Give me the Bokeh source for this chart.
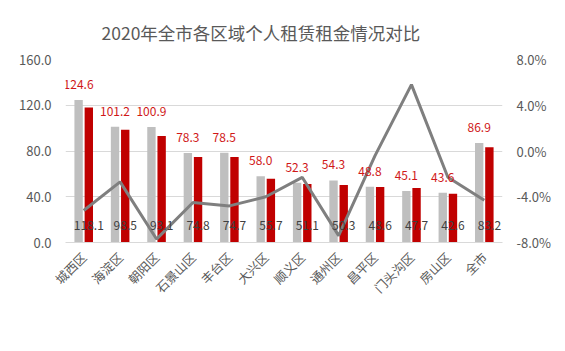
from bokeh.plotting import figure
from bokeh.layouts import column
from bokeh.models import (FactorRange, Range1d, LinearAxis, Legend, LegendItem,
                          FixedTicker, PrintfTickFormatter, ColumnDataSource)
from bokeh.transform import dodge
from bokeh.core.properties import value
from bokeh.embed import file_html
from bokeh.resources import INLINE
import math

districts = ["城西区", "海淀区", "朝阳区", "石景山区", "丰台区", "大兴区", "顺义区",
             "通州区", "昌平区", "门头沟区", "房山区", "全市"]
rent_2019 = [124.6, 101.2, 100.9, 78.3, 78.5, 58.0, 52.3, 54.3, 48.8, 45.1, 43.6, 86.9]
rent_2020 = [118.1, 98.5, 93.1, 74.8, 74.7, 55.7, 51.1, 50.3, 48.6, 47.7, 42.6, 83.2]
yoy_pct = [-5.2, -2.7, -7.7, -4.5, -4.8, -4.0, -2.3, -7.4, -0.4, 5.8, -2.3, -4.3]
left_ticks = [0, 40, 80, 120, 160]
right_ticks = [-8, -4, 0, 4, 8]
legend_labels = ["2019年成交租金（元/㎡*月）", "2020年成交租金（元/㎡*月）", "同比"]

FONT = "Noto Sans CJK SC"
TXT = "#595959"
GRAY, RED, LINE = "#BFBFBF", "#C00000", "#7F7F7F"

src = ColumnDataSource(dict(
    x=districts, a=rent_2019, b=rent_2020, y=yoy_pct,
    la=["%.1f" % v for v in rent_2019], lb=["%.1f" % v for v in rent_2020],
    base=[0] * len(districts),
))

p = figure(x_range=FactorRange(*districts), y_range=Range1d(0, 160),
           width=565, height=306, output_backend="svg", toolbar_location=None,
           min_border_left=65, min_border_right=63, min_border_top=59,
           min_border_bottom=64, sizing_mode="fixed")
p.outline_line_color = None
p.title.text = "2020年全市各区域个人租赁租金情况对比"
p.title.text_font = FONT
p.title.text_font_size = "17.5px"
p.title.text_font_style = "normal"
p.title.text_color = TXT
p.title.align = "left"
p.title.offset = 36
p.title.standoff = 30

p.extra_y_ranges = {"pct": Range1d(-8, 8)}
off, w = 0.14, 0.23
p.vbar(x=dodge("x", -off, range=p.x_range), top="a", width=w, source=src, color=GRAY, line_color=None)
p.vbar(x=dodge("x", off, range=p.x_range), top="b", width=w, source=src, color=RED, line_color=None)
p.line(x="x", y="y", source=src, y_range_name="pct", line_color=LINE, line_width=3)
p.text(x=dodge("x", -off, range=p.x_range), y="a", text="la", source=src,
       text_font=value(FONT), text_font_size="12px", text_color="#D01818",
       text_align="center", text_baseline="bottom", y_offset=-11)
p.text(x=dodge("x", off, range=p.x_range), y="base", text="lb", source=src,
       text_font=value(FONT), text_font_size="12px", text_color="#404040",
       text_align="center", text_baseline="middle", y_offset=-17)

p.yaxis.ticker = FixedTicker(ticks=left_ticks)
p.yaxis.formatter = PrintfTickFormatter(format="%.1f")
ax_r = LinearAxis(y_range_name="pct", ticker=FixedTicker(ticks=right_ticks),
                  formatter=PrintfTickFormatter(format="%.1f%%"))
p.add_layout(ax_r, "right")
for ax in [p.yaxis[0], ax_r]:
    ax.axis_line_color = None
    ax.major_tick_line_color = None
    ax.minor_tick_line_color = None
    ax.major_label_text_font = FONT
    ax.major_label_text_font_size = "13px"
    ax.major_label_text_color = TXT
    ax.major_label_standoff = 8
xa = p.xaxis[0]
xa.axis_line_color = "#D9D9D9"
xa.major_tick_line_color = None
xa.major_label_orientation = math.pi / 4
xa.major_label_text_font = FONT
xa.major_label_text_font_size = "12.5px"
xa.major_label_text_color = TXT
xa.major_label_standoff = 6
p.xgrid.grid_line_color = None
p.ygrid.grid_line_color = "#D9D9D9"
p.x_range.range_padding = 0

lg = figure(frame_width=565, frame_height=20, x_range=Range1d(0, 1), y_range=Range1d(0, 1),
            output_backend="svg", toolbar_location=None, min_border=0,
            x_axis_location=None, y_axis_location=None, sizing_mode="fixed")
lg.outline_line_color = None
lg.grid.grid_line_color = None
lg.title.visible = False
g1 = lg.vbar(x=[-5], top=[-5], width=0.1, color=GRAY, line_color=None)
g2 = lg.vbar(x=[-5], top=[-5], width=0.1, color=RED, line_color=None)
g3 = lg.line(x=[-5, -4], y=[-5, -5], line_color=LINE, line_width=3)
legend = Legend(items=[LegendItem(label=t, renderers=[r]) for t, r in
                       zip(legend_labels, [g1, g2, g3])],
                orientation="horizontal", location=(23, 0))
legend.label_text_font = FONT
legend.label_text_font_size = "13px"
legend.label_text_color = TXT
legend.glyph_width = 24
legend.glyph_height = 8
legend.spacing = 14
legend.label_standoff = 3
legend.border_line_color = None
legend.background_fill_alpha = 0
legend.padding = 0
legend.margin = 0
lg.add_layout(legend, "center")

open("out.html", "w").write(file_html(column(p, lg, spacing=0), INLINE))
